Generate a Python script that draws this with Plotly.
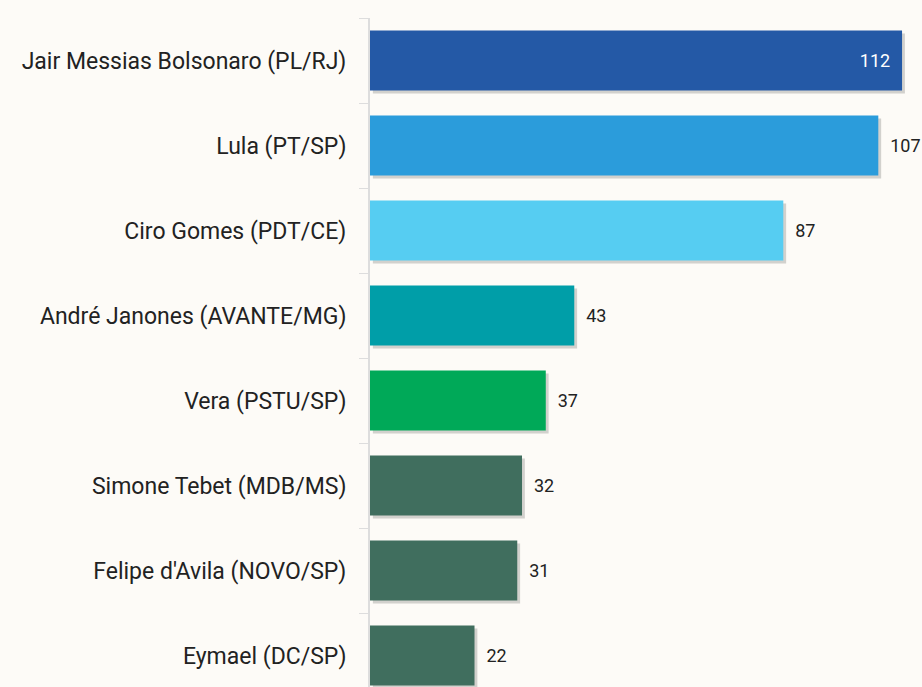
import plotly.graph_objects as go

candidates = ["Jair Messias Bolsonaro (PL/RJ)", "Lula (PT/SP)", "Ciro Gomes (PDT/CE)",
              "André Janones (AVANTE/MG)", "Vera (PSTU/SP)", "Simone Tebet (MDB/MS)",
              "Felipe d'Avila (NOVO/SP)", "Eymael (DC/SP)"]
values = [112, 107, 87, 43, 37, 32, 31, 22]
colors = ["#2459A6", "#2B9CDB", "#56CDF2", "#009EA8", "#00A958", "#406E5E", "#406E5E", "#406E5E"]
text_pos = ["inside"] + ["outside"] * 7

bg = "#FDFBF7"
idx = list(range(len(candidates)))
nb = "\u00a0"
labels = [f"{v}{nb*2}" if p == "inside" else f"{nb*2}{v}" for v, p in zip(values, text_pos)]

fig = go.Figure()
# drop shadow
fig.add_trace(go.Bar(
    y=idx, x=values, base=0.6, orientation="h", width=0.706, offset=-0.353 + 0.035,
    marker=dict(color="rgba(60,60,60,0.22)", line=dict(width=0)),
    hoverinfo="skip", showlegend=False,
))
fig.add_trace(go.Bar(
    y=idx, x=values, orientation="h", width=0.706,
    marker=dict(color=colors, line=dict(width=0)),
    text=labels, textposition=text_pos,
    insidetextanchor="end",
    textfont=dict(family="Roboto", size=18, color="#222222"),
    insidetextfont=dict(family="Roboto", size=18, color="white"),
    outsidetextfont=dict(family="Roboto", size=18, color="#222222"),
    cliponaxis=False, showlegend=False,
))

fig.update_layout(
    width=922, height=687,
    margin=dict(l=370, r=0, t=18, b=0),
    paper_bgcolor=bg, plot_bgcolor=bg,
    barmode="overlay",
    font=dict(family="Roboto", size=23, color="#222222"),
)
fig.update_xaxes(range=[0, 116.2], visible=False, showgrid=False, zeroline=False)
fig.update_yaxes(
    tickmode="array", tickvals=idx, ticktext=candidates,
    range=[7.37, -0.5], showgrid=False, zeroline=False,
    showline=True, linecolor="#DDDDDD", linewidth=2,
    ticks="", tickfont=dict(family="Roboto", size=23, color="#222222"),
    ticklabelstandoff=17,
    minor=dict(tickmode="array", tickvals=[i - 0.5 for i in idx] + [7.5],
               ticks="outside", ticklen=9, tickcolor="#DDDDDD", tickwidth=1, showgrid=False),
)

fig.write_html("out.html", config={"displayModeBar": False},
               post_script="document.body.style.margin='0';document.body.style.background='" + bg + "';")
